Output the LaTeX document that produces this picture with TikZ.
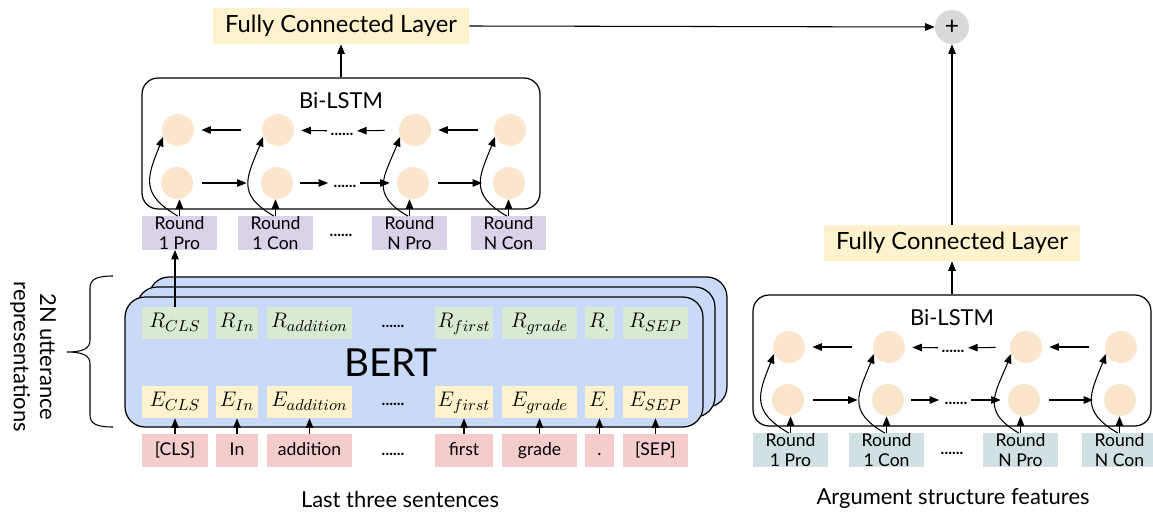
\documentclass[tikz,border=0pt]{standalone}
\usepackage{fontspec}
\setmainfont{Lato}
\usetikzlibrary{arrows.meta}

\definecolor{fcyellow}{HTML}{FFF2CC}
\definecolor{peach}{HTML}{FCE5CD}
\definecolor{lavbox}{HTML}{D9D2E9}
\definecolor{steelbox}{HTML}{D0E0E3}
\definecolor{rgreen}{HTML}{D9EAD3}
\definecolor{tpink}{HTML}{F4CCCC}
\definecolor{bertblue}{HTML}{C9DAF8}
\definecolor{plusgray}{HTML}{D9D9D9}

\begin{document}
\begin{tikzpicture}[x=0.02cm, y=-0.02cm, every node/.style={align=center},
arr/.style={-{Triangle[length=0.19cm,width=0.15cm]}, line width=0.6pt},
fcbox/.style={fill=fcyellow, minimum width=5.12cm, minimum height=0.72cm, inner sep=0pt, font=\fontsize{13.5}{15}\selectfont},
lstmbox/.style={draw, line width=0.7pt, rounded corners=0.32cm, minimum width=7.96cm, minimum height=2.62cm, inner sep=0pt},
cellc/.style={circle, fill=peach, minimum size=0.64cm, inner sep=0pt},
rndbox/.style={minimum width=1.5cm, minimum height=0.64cm, inner sep=0pt, font=\fontsize{10}{11.5}\selectfont},
dotsn/.style={font=\bfseries\small, inner sep=1pt, text height=0.2cm, text depth=0pt},
bertbox/.style={draw, line width=0.7pt, fill=bertblue, rounded corners=0.4cm, minimum width=11.56cm, minimum height=2.6cm, inner sep=0pt},
rbox/.style={fill=rgreen, minimum height=0.64cm, inner sep=0pt, text height=1.6ex, text depth=0.5ex, font=\fontsize{12.5}{14}\selectfont},
ebox/.style={fill=fcyellow, minimum height=0.64cm, inner sep=0pt, text height=1.6ex, text depth=0.5ex, font=\fontsize{12.5}{14}\selectfont},
tbox/.style={fill=tpink, minimum height=0.66cm, inner sep=0pt, text height=1.5ex, text depth=0.4ex, font=\fontsize{10}{12}\selectfont},
caption/.style={font=\fontsize{12.5}{15}\selectfont}]
\useasboundingbox (0,0) rectangle (1153,513);
%================================================================
%	Sentence branch: FC + Bi-LSTM
\node[fcbox] (sfc) at (341,26) {Fully Connected Layer};
\node[lstmbox] (slstm) at (341,143.5) {};
\node[font=\fontsize{12.5}{15}\selectfont] (slab) at (341,101) {Bi-LSTM};
%----------------------------------------------------------------
\node[cellc] (sb1) at (178,130) {};
\node[cellc] (sb2) at (278,130) {};
\node[cellc] (sb3) at (415,130) {};
\node[cellc] (sb4) at (510,130) {};
\node[cellc] (sf1) at (177,183) {};
\node[cellc] (sf2) at (277,183) {};
\node[cellc] (sf3) at (413,183) {};
\node[cellc] (sf4) at (509,183) {};
\node[dotsn] (sdb) at (342,131) {......};
\node[dotsn] (sdf) at (345,183) {......};
%----------------------------------------------------------------
\node[rndbox, fill=lavbox] (sr1) at (179.5,233) {Round\\1 Pro};
\node[rndbox, fill=lavbox] (sr2) at (275.5,233) {Round\\1 Con};
\node[rndbox, fill=lavbox] (sr3) at (409.5,233) {Round\\N Pro};
\node[rndbox, fill=lavbox] (sr4) at (508.5,233) {Round\\N Con};
\node[dotsn] (srd) at (341,232) {......};
%----------------------------------------------------------------
\draw[arr] (slstm.north) -- (sfc.south);
\draw[arr, shorten <=5pt, shorten >=8pt] (sf1) -- (sf2);
\draw[arr, shorten <=4pt, shorten >=2pt] (sf2) -- (sdf);
\draw[arr, shorten <=1pt, shorten >=4pt] (sdf) -- (sf3);
\draw[arr, shorten <=5pt, shorten >=6pt] (sf3) -- (sf4);
\draw[arr, shorten <=12pt, shorten >=4pt] (sb2) -- (sb1);
\draw[arr, shorten <=1pt, shorten >=4pt] (sdb) -- (sb2);
\draw[arr, shorten <=8pt, shorten >=1pt] (sb3) -- (sdb);
\draw[arr, shorten <=9pt, shorten >=4pt] (sb4) -- (sb3);
%----------------------------------------------------------------
\draw[arr] (sr1.north) -- (sr1.north |- sf1.south);
\draw[arr] (sr2.north) -- (sr2.north |- sf2.south);
\draw[arr] (sr3.north) -- (sr3.north |- sf3.south);
\draw[arr] (sr4.north) -- (sr4.north |- sf4.south);
\draw[arr] ([xshift=-1pt]sr1.north) .. controls +(-38,-22) and +(-16,40) .. (sb1.205);
\draw[arr] ([xshift=-1pt]sr2.north) .. controls +(-38,-22) and +(-16,40) .. (sb2.205);
\draw[arr] ([xshift=-1pt]sr3.north) .. controls +(-38,-22) and +(-16,40) .. (sb3.205);
\draw[arr] ([xshift=-1pt]sr4.north) .. controls +(-38,-22) and +(-16,40) .. (sb4.205);

%================================================================
%	Argument branch: same block, shifted
\begin{scope}[shift={(611,217)}]
\node[fcbox] (afc) at (341,26) {Fully Connected Layer};
\node[lstmbox] (alstm) at (341,143.5) {};
\node[font=\fontsize{12.5}{15}\selectfont] (alab) at (341,101) {Bi-LSTM};
%----------------------------------------------------------------
\node[cellc] (ab1) at (178,130) {};
\node[cellc] (ab2) at (278,130) {};
\node[cellc] (ab3) at (415,130) {};
\node[cellc] (ab4) at (510,130) {};
\node[cellc] (af1) at (177,183) {};
\node[cellc] (af2) at (277,183) {};
\node[cellc] (af3) at (413,183) {};
\node[cellc] (af4) at (509,183) {};
\node[dotsn] (adb) at (342,131) {......};
\node[dotsn] (adf) at (345,183) {......};
%----------------------------------------------------------------
\node[rndbox, fill=steelbox] (ar1) at (179.5,233) {Round\\1 Pro};
\node[rndbox, fill=steelbox] (ar2) at (275.5,233) {Round\\1 Con};
\node[rndbox, fill=steelbox] (ar3) at (409.5,233) {Round\\N Pro};
\node[rndbox, fill=steelbox] (ar4) at (508.5,233) {Round\\N Con};
\node[dotsn] (ard) at (341,232) {......};
%----------------------------------------------------------------
\draw[arr] (alstm.north) -- (afc.south);
\draw[arr, shorten <=5pt, shorten >=8pt] (af1) -- (af2);
\draw[arr, shorten <=4pt, shorten >=2pt] (af2) -- (adf);
\draw[arr, shorten <=1pt, shorten >=4pt] (adf) -- (af3);
\draw[arr, shorten <=5pt, shorten >=6pt] (af3) -- (af4);
\draw[arr, shorten <=12pt, shorten >=4pt] (ab2) -- (ab1);
\draw[arr, shorten <=1pt, shorten >=4pt] (adb) -- (ab2);
\draw[arr, shorten <=8pt, shorten >=1pt] (ab3) -- (adb);
\draw[arr, shorten <=9pt, shorten >=4pt] (ab4) -- (ab3);
%----------------------------------------------------------------
\draw[arr] (ar1.north) -- (ar1.north |- af1.south);
\draw[arr] (ar2.north) -- (ar2.north |- af2.south);
\draw[arr] (ar3.north) -- (ar3.north |- af3.south);
\draw[arr] (ar4.north) -- (ar4.north |- af4.south);
\draw[arr] ([xshift=-1pt]ar1.north) .. controls +(-38,-22) and +(-16,40) .. (ab1.205);
\draw[arr] ([xshift=-1pt]ar2.north) .. controls +(-38,-22) and +(-16,40) .. (ab2.205);
\draw[arr] ([xshift=-1pt]ar3.north) .. controls +(-38,-22) and +(-16,40) .. (ab3.205);
\draw[arr] ([xshift=-1pt]ar4.north) .. controls +(-38,-22) and +(-16,40) .. (ab4.205);
\end{scope}

%================================================================
%	Sum
\node[circle, fill=plusgray, minimum size=0.68cm, inner sep=0pt, font=\fontsize{14}{14}\selectfont] (plus) at (952,27) {+};
\draw[arr] (sfc.east) -- (plus.west);
\draw[arr] (afc.north) -- (plus.south);

%================================================================
%	BERT
\node[bertbox] (bert3) at (438,342) {};
\node[bertbox] (bert2) at (426,352) {};
\node[bertbox] (bert1) at (414,362) {};
\node[font=\fontsize{22}{26}\selectfont] (berttxt) at (391,363) {BERT};
%----------------------------------------------------------------
\node[rbox, minimum width=1.32cm] (rcls) at (175,323) {$R_{CLS}$};
\node[rbox, minimum width=0.84cm] (rin) at (237,323) {$R_{In}$};
\node[rbox, minimum width=1.7cm] (radd) at (309.5,323) {$R_{addition}$};
\node[dotsn] (rdots) at (393,323) {......};
\node[rbox, minimum width=1.16cm] (rfirst) at (464,323) {$R_{first}$};
\node[rbox, minimum width=1.5cm] (rgrade) at (539.5,323) {$R_{grade}$};
\node[rbox, minimum width=0.58cm] (rdot) at (599.5,323) {$R_{.}$};
\node[rbox, minimum width=1.3cm] (rsep) at (655.5,323) {$R_{SEP}$};
%----------------------------------------------------------------
\node[ebox, minimum width=1.32cm] (ecls) at (175,402) {$E_{CLS}$};
\node[ebox, minimum width=0.84cm] (ein) at (237,402) {$E_{In}$};
\node[ebox, minimum width=1.7cm] (eadd) at (309.5,402) {$E_{addition}$};
\node[dotsn] (edots) at (393,401) {......};
\node[ebox, minimum width=1.16cm] (efirst) at (464,402) {$E_{first}$};
\node[ebox, minimum width=1.5cm] (egrade) at (539.5,402) {$E_{grade}$};
\node[ebox, minimum width=0.58cm] (edot) at (599.5,402) {$E_{.}$};
\node[ebox, minimum width=1.3cm] (esep) at (655.5,402) {$E_{SEP}$};
%----------------------------------------------------------------
\node[tbox, minimum width=1.32cm] (tcls) at (175,450.5) {[CLS]};
\node[tbox, minimum width=0.84cm] (tin) at (237,450.5) {In};
\node[tbox, minimum width=1.7cm] (tadd) at (309.5,450.5) {addition};
\node[dotsn] (tdots) at (393,450) {......};
\node[tbox, minimum width=1.16cm] (tfirst) at (464,450.5) {first};
\node[tbox, minimum width=1.5cm] (tgrade) at (539.5,450.5) {grade};
\node[tbox, minimum width=0.58cm] (tdot) at (599.5,450.5) {.};
\node[tbox, minimum width=1.3cm] (tsep) at (655.5,450.5) {[SEP]};
%----------------------------------------------------------------
\draw[arr] (tcls) -- (ecls);
\draw[arr] (tin) -- (ein);
\draw[arr] (tadd) -- (eadd);
\draw[arr] (tfirst) -- (efirst);
\draw[arr] (tgrade) -- (egrade);
\draw[arr] (tdot) -- (edot);
\draw[arr] (tsep) -- (esep);
\draw[arr] (rcls.north) -- (rcls.north |- sr1.south);

%================================================================
%	Brace and captions
\draw[line width=0.6pt] (113,276) .. controls (97,276) and (90,279) .. (90,288) -- (90,340)
  .. controls (90,348) and (84,352) .. (67,352) .. controls (84,352) and (90,356) .. (90,364)
  -- (90,415) .. controls (90,424) and (97,427) .. (113,427);
\node[caption, rotate=-90] (slabel) at (33,357) {2N utterance\\representations};
\node[caption] (cap1) at (400,499) {Last three sentences};
\node[caption] (cap2) at (953,499) {Argument structure features};
\end{tikzpicture}
\end{document}
